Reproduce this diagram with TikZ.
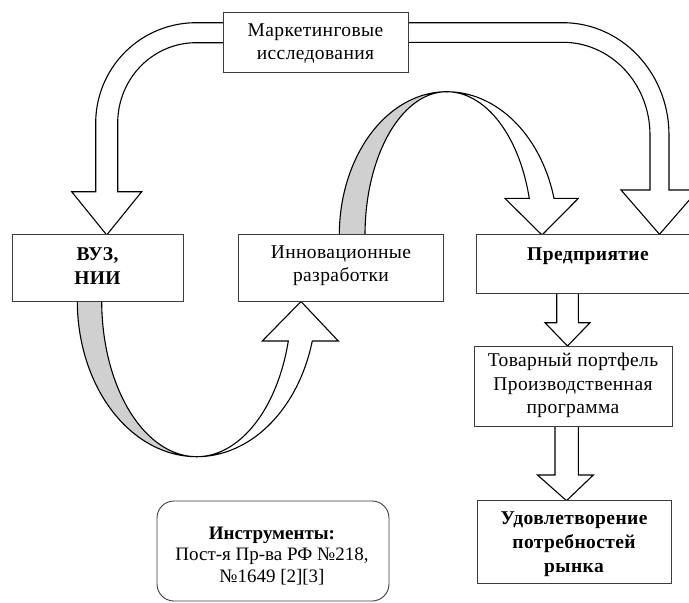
\documentclass[tikz,border=0pt]{standalone}
\usepackage{fontspec}
\setmainfont{Liberation Serif}[LetterSpace=2]
\newfontfamily\plainserif{Liberation Serif}
\definecolor{bandgrey}{RGB}{208,208,208}
\definecolor{boxline}{RGB}{60,60,60}
\begin{document}
\begin{tikzpicture}[x=1pt,y=-1pt,
  blk/.style={draw=black, line width=1.1pt, fill=white, line join=miter},
  back/.style={draw=black, line width=1.1pt, fill=bandgrey},
  box/.style={draw=boxline, line width=0.9pt, fill=white, inner sep=0pt},
  txt/.style={align=center, inner sep=0pt, font=\fontsize{19.5}{23.5}\selectfont},
  btxt/.style={align=center, inner sep=0pt, font=\fontsize{19.5}{24}\selectfont\bfseries},
  itxt/.style={align=center, inner sep=0pt, font=\plainserif\fontsize{19}{21.5}\selectfont}]
\useasboundingbox (0,0) rectangle (689,603);
\fill[white] (0,0) rectangle (689,603);
\clip (0,0) rectangle (689,603);

% left U arrow (marketing -> VUZ)
\draw[blk] (230,22.7) -- (196,22.7)
  -- plot[domain=270:180, samples=40, variable=\t] ({196+100.3*cos(\t)},{123+100.3*sin(\t)})
  -- (95.7,191.7) -- (71.7,191.7) -- (106.7,235) -- (141.7,191.7) -- (117.7,191.7) -- (117.7,123)
  -- plot[domain=180:270, samples=40, variable=\t] ({196+78.3*cos(\t)},{123+80.3*sin(\t)})
  -- (230,42.7) -- cycle;

% right U arrow (marketing -> enterprise)
\draw[blk] (400,22.7) -- (563,22.7)
  -- plot[domain=270:360, samples=40, variable=\t] ({563+106*cos(\t)},{135+112.3*sin(\t)})
  -- (669,190) -- (698,190) -- (659.5,234.3) -- (621,190) -- (650,190) -- (650,135)
  -- plot[domain=360:270, samples=40, variable=\t] ({563+87*cos(\t)},{135+92.7*sin(\t)})
  -- (400,42.3) -- cycle;

% middle curved arrow (innovations -> enterprise)
\draw[back] plot[domain=180:270, samples=50, variable=\t] ({446.7+107.4*cos(\t)},{235+143.3*sin(\t)})
  -- plot[domain=270:180, samples=50, variable=\t] ({446.7+81.7*cos(\t)},{235+143.3*sin(\t)}) -- cycle;
\draw[blk] plot[domain=270:345.2, samples=50, variable=\t] ({446.7+111*cos(\t)},{235+143.3*sin(\t)})
  -- (578.3,198.4) -- (542,235) -- (505,198.4)
  -- plot[domain=345.2:270, samples=50, variable=\t] ({446.7+85.4*cos(\t)},{235+143.3*sin(\t)}) -- cycle;

% bottom curved arrow (VUZ -> innovations)
\draw[back] plot[domain=180:90, samples=50, variable=\t] ({196.7+119.4*cos(\t)},{301+155.7*sin(\t)})
  -- plot[domain=90:180, samples=50, variable=\t] ({196.7+95*cos(\t)},{301+155.7*sin(\t)}) -- cycle;
\draw[blk] plot[domain=90:14.9, samples=50, variable=\t] ({196.7+119.6*cos(\t)},{301+155.7*sin(\t)})
  -- (338.3,341) -- (301,301.5) -- (262.3,341)
  -- plot[domain=14.9:90, samples=50, variable=\t] ({196.7+94.8*cos(\t)},{301+155.7*sin(\t)}) -- cycle;

% small down arrows
\draw[blk] (556.7,292.7) -- (556.7,322.7) -- (545,322.7) -- (567.5,346) -- (590,322.7) -- (578.3,322.7) -- (578.3,292.7) -- cycle;
\draw[blk] (555,426) -- (555,475) -- (537.5,475) -- (566.5,500.7) -- (593.3,475) -- (578.3,475) -- (578.3,426) -- cycle;

% boxes
\node[box, minimum width=185pt, minimum height=60pt] (mark) at (315.5,42.4) {};
\node[box, minimum width=171pt, minimum height=67pt] (vuz) at (97.5,268) {};
\node[box, minimum width=205.3pt, minimum height=67pt] (inn) at (341.2,268) {};
\node[box, minimum width=223.5pt, minimum height=58.7pt] (pred) at (588.3,263.7) {};
\node[box, minimum width=198pt, minimum height=80pt] (tov) at (573,386) {};
\node[box, minimum width=194pt, minimum height=82.3pt] (udov) at (574,541.8) {};
\node[box, rounded corners=17pt, minimum width=232pt, minimum height=100pt] (instr) at (273,551) {};

% texts
\node[txt] (markt) at (315.5,43.3) {Маркетинговые\\исследования};
\node[btxt] (vuzt) at (97.5,266) {ВУЗ,\\НИИ};
\node[txt] (innt) at (341,265.5) {Инновационные\\разработки};
\node[btxt] (predt) at (588,256) {Предприятие};
\node[txt] (tovt) at (573,385.5) {Товарный портфель\\Производственная\\программа};
\node[btxt] (udovt) at (574,544.5) {Удовлетворение\\потребностей\\рынка};
\node[itxt] (instrt) at (272,556) {\textbf{Инструменты:}\\Пост-я Пр-ва РФ  №218,\\№1649 [2][3]};
\end{tikzpicture}
\end{document}
